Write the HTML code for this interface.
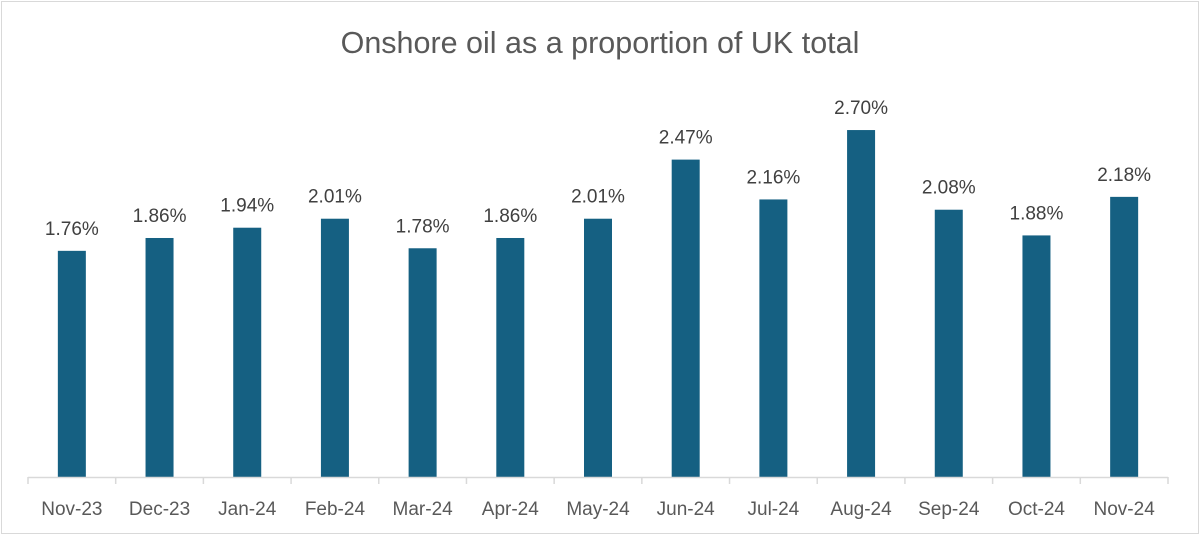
<!DOCTYPE html>
<html><head><style>
body{margin:0;background:#fff;}
svg{display:block;}
text{font-family:"Liberation Sans",sans-serif;}
</style></head><body>
<svg width="1200" height="535" viewBox="0 0 1200 535">
<rect x="1.5" y="1.5" width="1197" height="532" fill="#fff" stroke="#d9d9d9" stroke-width="1"/>
<text x="600" y="53" text-anchor="middle" font-size="30.5" fill="#595959">Onshore oil as a proportion of UK total</text>
<g id="bars"></g>
<line x1="28" y1="477.5" x2="1168" y2="477.5" stroke="#d9d9d9" stroke-width="1.5"/>
<g id="ticks"></g>
</svg>
<script>
var d=[["Nov-23",1.76],["Dec-23",1.86],["Jan-24",1.94],["Feb-24",2.01],["Mar-24",1.78],["Apr-24",1.86],["May-24",2.01],["Jun-24",2.47],["Jul-24",2.16],["Aug-24",2.70],["Sep-24",2.08],["Oct-24",1.88],["Nov-24",2.18]];
var ns="http://www.w3.org/2000/svg",b=document.getElementById("bars"),t=document.getElementById("ticks");
var w=1140/13;
function el(n,a,p,txt){var e=document.createElementNS(ns,n);for(var k in a)e.setAttribute(k,a[k]);if(txt)e.textContent=txt;p.appendChild(e);}
for(var i=0;i<=13;i++){var x=28+i*w;el("line",{x1:x,y1:477,x2:x,y2:484,stroke:"#d9d9d9","stroke-width":1.5},t);}
d.forEach(function(r,i){var c=28+w/2+i*w,h=r[1]*128.5,y=477-h;
el("rect",{x:c-14,y:y,width:28,height:h,fill:"#156082"},b);
el("text",{x:c,y:y-16,"text-anchor":"middle","font-size":19,fill:"#404040"},b,r[1].toFixed(2)+"%");
el("text",{x:c,y:515,"text-anchor":"middle","font-size":19,fill:"#595959"},t,r[0]);});
</script>
</body></html>
